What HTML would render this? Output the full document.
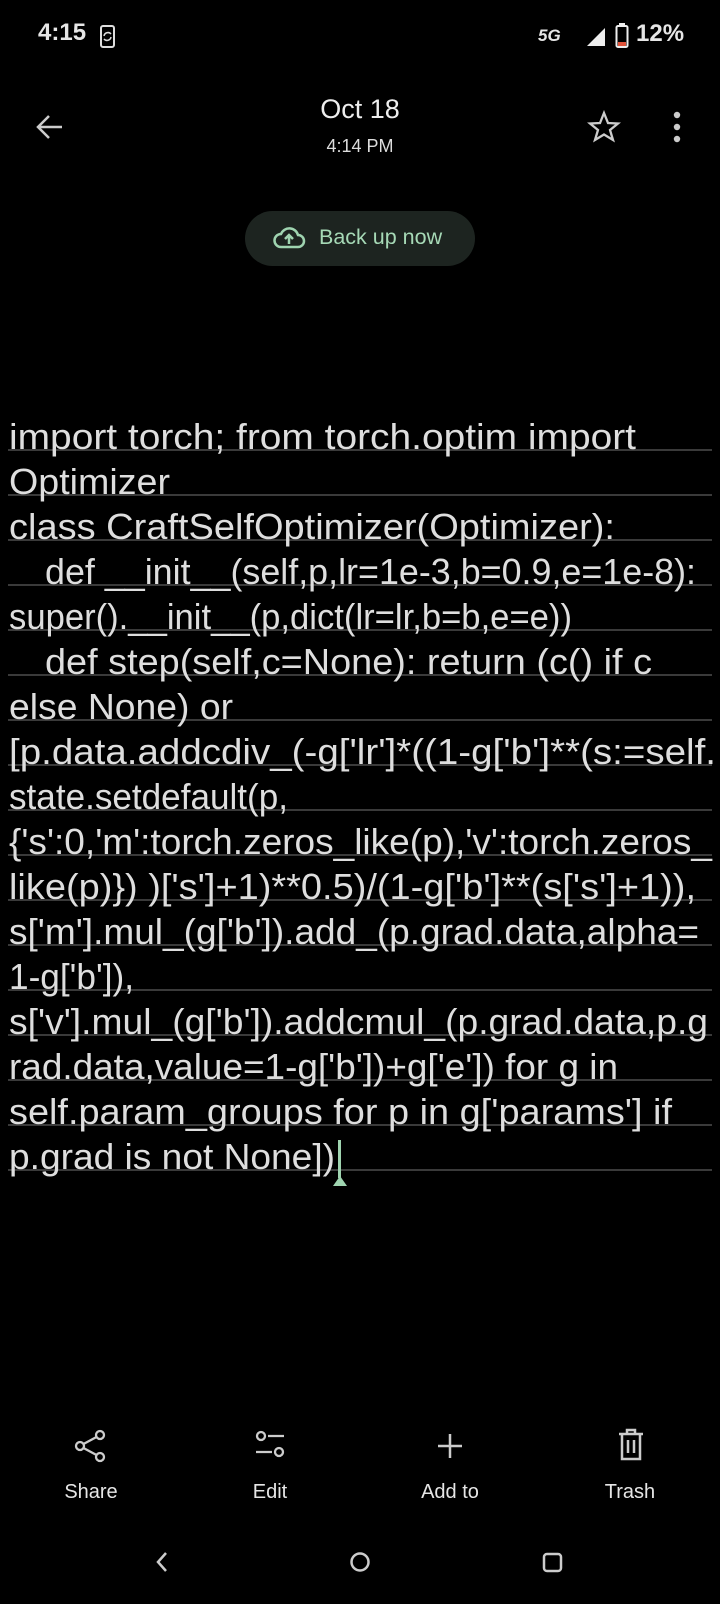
<!DOCTYPE html>
<html><head><meta charset="utf-8"><style>
body{margin:0;width:720px;height:1604px;background:#000;position:relative;overflow:hidden;font-family:"Liberation Sans",sans-serif;color:#e6e6e6}
.a{position:absolute;white-space:nowrap}
.ln{position:absolute;left:8px;width:704px;height:2px;background:#3a3a3a}
.t{position:absolute;left:9px;font-size:36.5px;white-space:nowrap;color:#dedede;transform-origin:0 0}
.lab{position:absolute;top:1481px;font-size:20px;width:120px;text-align:center;color:#e6e6e6}
</style></head><body>
<div class="a" style="left:38px;top:19px;font-size:24px;font-weight:bold">4:15</div>
<svg class="a" style="left:98px;top:24px" width="20" height="26"><rect x="3" y="2" width="13" height="21" rx="2" fill="none" stroke="#ddd" stroke-width="2"/><path d="M6 12a4 4 0 0 1 7-2M13 13a4 4 0 0 1-7 2" stroke="#ddd" fill="none" stroke-width="1.5"/></svg>
<div class="a" style="left:538px;top:26px;font-size:17px;font-style:italic;font-weight:bold">5G</div>
<svg class="a" style="left:585px;top:26px" width="22" height="22"><path d="M20 2V20H2Z" fill="#eee"/></svg>
<svg class="a" style="left:615px;top:23px" width="14" height="26"><rect x="1.5" y="3" width="11" height="21" rx="1.5" fill="none" stroke="#eee" stroke-width="2"/><rect x="3" y="19" width="8" height="4" fill="#e0533a"/><rect x="4" y="0" width="6" height="3" fill="#eee"/></svg>
<div class="a" style="left:636px;top:20px;font-size:24px;font-weight:bold">12%</div>

<svg class="a" style="left:34px;top:113px" width="30" height="28"><path d="M28 14H4M15 3L4 14L15 25" stroke="#ccc" stroke-width="2.5" fill="none"/></svg>
<div class="a" style="left:260px;width:200px;text-align:center;top:94px;font-size:27px;color:#eee">Oct 18</div>
<div class="a" style="left:260px;width:200px;text-align:center;top:136px;font-size:18px;color:#ddd">4:14 PM</div>
<svg class="a" style="left:587px;top:110px" width="34" height="34"><path d="M17 3L21 13L31 13.5L23 20L26 30L17 24.5L8 30L11 20L3 13.5L13 13Z" stroke="#ccc" stroke-width="2.3" fill="none"/></svg>
<svg class="a" style="left:671px;top:110px" width="12" height="34"><circle cx="6" cy="5" r="3.2" fill="#ccc"/><circle cx="6" cy="17" r="3.2" fill="#ccc"/><circle cx="6" cy="29" r="3.2" fill="#ccc"/></svg>

<div class="a" style="left:245px;top:211px;width:230px;height:55px;border-radius:28px;background:#1d2420"></div>
<svg class="a" style="left:272px;top:224px" width="34" height="28"><path d="M9 23H26a6 6 0 0 0 0-12a9 9 0 0 0-17-1a6.5 6.5 0 0 0 0 13Z" stroke="#9fd4b0" stroke-width="2.5" fill="none"/><path d="M17 20V12M13 15L17 11L21 15" stroke="#9fd4b0" stroke-width="2.5" fill="none"/></svg>
<div class="a" style="left:319px;top:225px;font-size:21.5px;color:#a6d9b6">Back up now</div>

<div class="ln" style="top:449px"></div><div class="ln" style="top:494px"></div><div class="ln" style="top:539px"></div><div class="ln" style="top:584px"></div><div class="ln" style="top:629px"></div><div class="ln" style="top:674px"></div><div class="ln" style="top:719px"></div><div class="ln" style="top:764px"></div><div class="ln" style="top:809px"></div><div class="ln" style="top:854px"></div><div class="ln" style="top:899px"></div><div class="ln" style="top:944px"></div><div class="ln" style="top:989px"></div><div class="ln" style="top:1034px"></div><div class="ln" style="top:1079px"></div><div class="ln" style="top:1124px"></div><div class="ln" style="top:1169px"></div>

<div class="t" style="top:416px">import torch; from torch.optim import</div>
<div class="t" style="top:461px">Optimizer</div>
<div class="t" style="top:506px">class CraftSelfOptimizer(Optimizer):</div>
<div class="t" style="top:551px;left:45px">def __init__(self,p,lr=1e-3,b=0.9,e=1e-8):</div>
<div class="t" style="top:596px">super().__init__(p,dict(lr=lr,b=b,e=e))</div>
<div class="t" style="top:641px;left:45px">def step(self,c=None): return (c() if c</div>
<div class="t" style="top:686px">else None) or</div>
<div class="t" style="top:731px">[p.data.addcdiv_(-g['lr']*((1-g['b']**(s:=self.</div>
<div class="t" style="top:776px">state.setdefault(p,</div>
<div class="t" style="top:821px">{'s':0,'m':torch.zeros_like(p),'v':torch.zeros_</div>
<div class="t" style="top:866px">like(p)}) )['s']+1)**0.5)/(1-g['b']**(s['s']+1)),</div>
<div class="t" style="top:911px">s['m'].mul_(g['b']).add_(p.grad.data,alpha=</div>
<div class="t" style="top:956px">1-g['b']),</div>
<div class="t" style="top:1001px">s['v'].mul_(g['b']).addcmul_(p.grad.data,p.g</div>
<div class="t" style="top:1046px">rad.data,value=1-g['b'])+g['e']) for g in</div>
<div class="t" style="top:1091px">self.param_groups for p in g['params'] if</div>
<div class="t" style="top:1136px">p.grad is not None])</div>
<div class="a" style="left:338px;top:1140px;width:3px;height:38px;background:#9fd4b0"></div>
<svg class="a" style="left:332px;top:1176px" width="16" height="14"><path d="M8 0L15 10H1Z" fill="#9fd4b0"/></svg>
<script>
var ends=[636,170,615,696,572,652,233,716,288,712,696,699,134,708,618,672,335];
var ts=document.querySelectorAll('.t');
for(var i=0;i<ts.length;i++){var el=ts[i];var w=el.getBoundingClientRect().width;var target=ends[i]-el.offsetLeft;el.style.transform='scaleX('+(target/w)+')';}
</script>

<svg class="a" style="left:72px;top:1428px" width="36" height="36"><circle cx="28" cy="7" r="4" stroke="#ccc" stroke-width="2.3" fill="none"/><circle cx="8" cy="18" r="4" stroke="#ccc" stroke-width="2.3" fill="none"/><circle cx="28" cy="29" r="4" stroke="#ccc" stroke-width="2.3" fill="none"/><path d="M11.5 16L24.5 9M11.5 20L24.5 27" stroke="#ccc" stroke-width="2.3"/></svg>
<svg class="a" style="left:252px;top:1428px" width="36" height="36"><circle cx="9" cy="8" r="4" stroke="#ccc" stroke-width="2.3" fill="none"/><path d="M16 8H32M4 24H20" stroke="#ccc" stroke-width="2.3"/><circle cx="27" cy="24" r="4" stroke="#ccc" stroke-width="2.3" fill="none"/></svg>
<svg class="a" style="left:436px;top:1432px" width="28" height="28"><path d="M14 2V26M2 14H26" stroke="#ccc" stroke-width="2.5"/></svg>
<svg class="a" style="left:616px;top:1428px" width="30" height="34"><path d="M3 6H27M11 6V2H19V6M6 6V31H24V6M12 12V25M18 12V25" stroke="#ccc" stroke-width="2.5" fill="none"/></svg>
<div class="lab" style="left:31px">Share</div>
<div class="lab" style="left:210px">Edit</div>
<div class="lab" style="left:390px">Add to</div>
<div class="lab" style="left:570px">Trash</div>

<svg class="a" style="left:155px;top:1551px" width="14" height="22"><path d="M11 2L3 11L11 20" stroke="#ccc" stroke-width="2.5" fill="none"/></svg>
<svg class="a" style="left:349px;top:1551px" width="22" height="22"><circle cx="11" cy="11" r="8.5" stroke="#ccc" stroke-width="2.5" fill="none"/></svg>
<svg class="a" style="left:542px;top:1552px" width="22" height="22"><rect x="2" y="2" width="17" height="17" rx="3" stroke="#ccc" stroke-width="2.5" fill="none"/></svg>
</body></html>
